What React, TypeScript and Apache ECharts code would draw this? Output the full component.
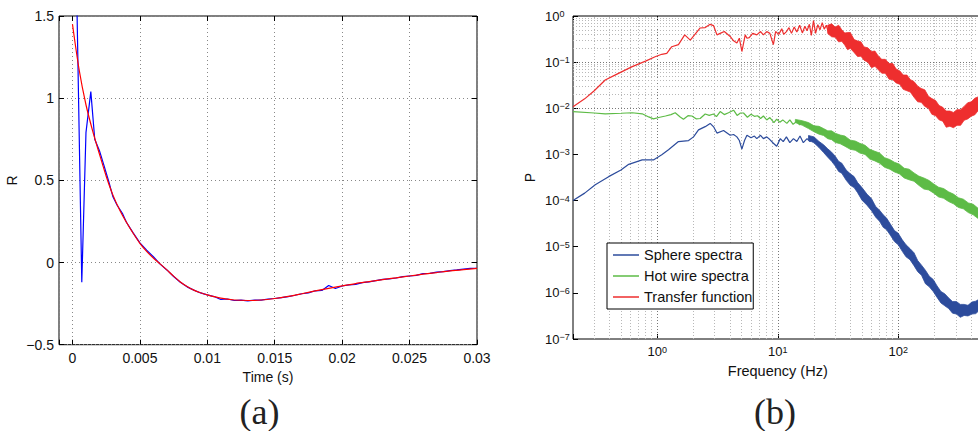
import React, { useEffect, useRef } from "react";
import * as echarts from "echarts";

const FONT = '"Liberation Sans", Arial, Helvetica, sans-serif';

// ---------- (a) autocorrelation ----------
const redT = [0, 0.0005, 0.001, 0.0015, 0.002, 0.0025, 0.003, 0.0035, 0.004, 0.0045, 0.005, 0.0055, 0.006, 0.0065, 0.007, 0.0075, 0.008, 0.0085, 0.009, 0.0095, 0.01, 0.011, 0.012, 0.013, 0.014, 0.015, 0.016, 0.017, 0.018, 0.019, 0.02, 0.021, 0.022, 0.023, 0.024, 0.025, 0.026, 0.027, 0.028, 0.029, 0.03];
const redR = [1.45, 1.17, 0.96, 0.8, 0.66, 0.525, 0.41, 0.32, 0.245, 0.178, 0.117, 0.068, 0.027, -0.008, -0.045, -0.083, -0.118, -0.146, -0.168, -0.184, -0.197, -0.217, -0.228, -0.231, -0.228, -0.219, -0.206, -0.19, -0.173, -0.157, -0.142, -0.128, -0.116, -0.104, -0.093, -0.082, -0.071, -0.061, -0.051, -0.043, -0.036];
const blueT = [0.0003, 0.00069, 0.001, 0.00136, 0.00165, 0.002, 0.0023, 0.0027, 0.003, 0.0033, 0.0037, 0.004, 0.0045, 0.005, 0.0055, 0.006, 0.0065, 0.007, 0.0075, 0.008, 0.0085, 0.009, 0.0095, 0.01, 0.0105, 0.011, 0.0115, 0.012, 0.0125, 0.013, 0.0135, 0.014, 0.0145, 0.015, 0.0155, 0.016, 0.0165, 0.017, 0.0175, 0.018, 0.0185, 0.019, 0.0195, 0.02, 0.0205, 0.021, 0.0215, 0.022, 0.0225, 0.023, 0.0235, 0.024, 0.0245, 0.025, 0.0255, 0.026, 0.0265, 0.027, 0.0275, 0.028, 0.0285, 0.029, 0.0295, 0.03];
const blueR = [1.7, -0.12, 0.79, 1.04, 0.75, 0.68, 0.6, 0.49, 0.4, 0.35, 0.3, 0.245, 0.18, 0.12, 0.075, 0.035, -0.01, -0.045, -0.085, -0.12, -0.148, -0.168, -0.185, -0.197, -0.207, -0.225, -0.222, -0.231, -0.229, -0.233, -0.229, -0.229, -0.222, -0.219, -0.214, -0.207, -0.199, -0.19, -0.185, -0.172, -0.17, -0.14, -0.158, -0.143, -0.136, -0.133, -0.122, -0.118, -0.11, -0.102, -0.099, -0.094, -0.086, -0.082, -0.078, -0.068, -0.066, -0.058, -0.055, -0.049, -0.045, -0.04, -0.036, -0.035];

// ---------- (b) spectra ----------
const sphereF = [0.2, 0.25, 0.306, 0.395, 0.5, 0.58, 0.75, 0.93, 1.09, 1.24, 1.5, 1.82, 2.0, 2.2, 2.5, 2.75, 2.95, 3.13, 3.55, 4.03, 4.3, 4.58, 4.8, 5.04, 5.3, 5.55, 6.0, 6.4, 6.7, 7.2, 7.6, 8.1, 8.6, 9.2, 9.8, 10.5, 11.1, 11.8, 12.6, 13.5, 14.4, 15.3, 16.3, 17.5, 18.5, 19.8, 21];
const sphereP = [1.0e-4, 1.45e-4, 2.2e-4, 3.3e-4, 4.6e-4, 6.1e-4, 7.6e-4, 7.6e-4, 9.8e-4, 1.26e-3, 1.9e-3, 2.0e-3, 2.4e-3, 3.4e-3, 4.0e-3, 4.7e-3, 3.9e-3, 2.9e-3, 3.3e-3, 2.6e-3, 2.7e-3, 2.4e-3, 2.0e-3, 1.3e-3, 2.0e-3, 2.6e-3, 2.3e-3, 2.5e-3, 2.2e-3, 2.6e-3, 2.2e-3, 2.4e-3, 2.1e-3, 1.75e-3, 1.5e-3, 2.2e-3, 1.9e-3, 2.4e-3, 1.8e-3, 2.2e-3, 1.9e-3, 2.5e-3, 1.8e-3, 2.2e-3, 1.9e-3, 2.3e-3, 1.9e-3];
const sphereBandF = [18, 20, 22, 24, 26, 28, 30, 32, 34, 37, 40, 43, 46, 50, 55, 60, 65, 70, 75, 80, 86, 93, 100, 108, 116, 125, 135, 145, 156, 168, 181, 195, 210, 226, 243, 262, 282, 304, 327, 352, 379, 408, 440, 474, 500];
const sphereBandLo = [2.04e-3, 1.78e-3, 1.41e-3, 1.1e-3, 8.71e-4, 7.08e-4, 5.62e-4, 4.27e-4, 3.89e-4, 2.75e-4, 2.14e-4, 1.91e-4, 1.48e-4, 1.02e-4, 7.94e-5, 6.03e-5, 4.37e-5, 3.55e-5, 2.63e-5, 2.34e-5, 1.78e-5, 1.29e-5, 1.1e-5, 7.94e-6, 6.03e-6, 5.25e-6, 3.89e-6, 2.88e-6, 2.4e-6, 1.58e-6, 1.35e-6, 1.07e-6, 7.94e-7, 6.03e-7, 5.25e-7, 4.57e-7, 3.63e-7, 3.47e-7, 2.95e-7, 3.24e-7, 3.16e-7, 3.47e-7, 3.55e-7, 4.27e-7, 4.37e-7];
const sphereBandHi = [2.57e-3, 2.4e-3, 1.91e-3, 1.62e-3, 1.32e-3, 1.12e-3, 9.12e-4, 7.08e-4, 6.46e-4, 4.57e-4, 3.8e-4, 3.31e-4, 2.45e-4, 1.91e-4, 1.38e-4, 1.1e-4, 7.41e-5, 6.17e-5, 4.9e-5, 4.17e-5, 3.09e-5, 2.24e-5, 1.95e-5, 1.41e-5, 1.1e-5, 9.12e-6, 7.41e-6, 5.01e-6, 3.98e-6, 3.09e-6, 2.29e-6, 1.95e-6, 1.41e-6, 1.07e-6, 9.55e-7, 7.76e-7, 6.46e-7, 6.46e-7, 5.62e-7, 5.62e-7, 5.37e-7, 6.31e-7, 6.61e-7, 7.41e-7, 7.59e-7];

const hotF = [0.2, 0.3, 0.37, 0.5, 0.62, 0.75, 0.85, 0.93, 1.05, 1.17, 1.3, 1.41, 1.55, 1.65, 1.8, 1.94, 2.1, 2.27, 2.5, 2.7, 2.93, 3.1, 3.33, 3.6, 3.9, 4.3, 4.6, 4.9, 5.2, 5.6, 6.0, 6.4, 6.8, 7.2, 7.6, 8.1, 8.6, 9.3, 9.8, 10.4, 11.0, 11.9, 12.6, 13.4, 14.4, 15.2, 16.0];
const hotP = [8.5e-3, 7.9e-3, 7.6e-3, 7.8e-3, 8.0e-3, 7.6e-3, 6.5e-3, 5.9e-3, 6.4e-3, 6.8e-3, 7.3e-3, 8.0e-3, 6.5e-3, 5.8e-3, 6.9e-3, 6.8e-3, 5.9e-3, 6.0e-3, 7.5e-3, 7.0e-3, 7.5e-3, 6.6e-3, 8.5e-3, 7.3e-3, 8.0e-3, 9.1e-3, 7.0e-3, 7.9e-3, 7.9e-3, 6.4e-3, 7.4e-3, 6.7e-3, 6.9e-3, 6.0e-3, 6.8e-3, 5.6e-3, 6.3e-3, 4.9e-3, 5.8e-3, 5.0e-3, 5.6e-3, 4.7e-3, 5.6e-3, 4.5e-3, 5.2e-3, 4.4e-3, 5.0e-3];
const hotBandF = [14, 16, 18, 20, 22, 24, 26, 28, 30, 33, 36, 40, 44, 48, 53, 58, 64, 70, 77, 85, 93, 102, 112, 123, 135, 148, 163, 179, 197, 216, 238, 261, 287, 316, 347, 381, 419, 461, 500];
const hotBandLo = [4.9e-3, 4.27e-3, 3.63e-3, 3.09e-3, 2.75e-3, 2.57e-3, 2.19e-3, 2.09e-3, 1.82e-3, 1.7e-3, 1.51e-3, 1.29e-3, 1.23e-3, 1.07e-3, 1.0e-3, 7.94e-4, 7.24e-4, 6.46e-4, 5.25e-4, 4.79e-4, 4.17e-4, 3.8e-4, 3.09e-4, 2.82e-4, 2.63e-4, 2.14e-4, 1.78e-4, 1.7e-4, 1.45e-4, 1.2e-4, 1.12e-4, 9.55e-5, 8.51e-5, 7.08e-5, 6.61e-5, 5.5e-5, 4.9e-5, 4.07e-5, 3.8e-5];
const hotBandHi = [5.75e-3, 5.37e-3, 4.9e-3, 4.17e-3, 4.07e-3, 3.63e-3, 3.24e-3, 3.24e-3, 2.88e-3, 2.63e-3, 2.51e-3, 2.04e-3, 1.95e-3, 1.74e-3, 1.58e-3, 1.29e-3, 1.17e-3, 1.07e-3, 8.51e-4, 7.76e-4, 6.76e-4, 6.17e-4, 5.01e-4, 4.79e-4, 3.98e-4, 3.39e-4, 3.09e-4, 2.75e-4, 2.29e-4, 1.95e-4, 1.82e-4, 1.55e-4, 1.38e-4, 1.15e-4, 1.07e-4, 8.91e-5, 8.32e-5, 6.76e-5, 6.17e-5];

const transF = [0.2, 0.25, 0.3, 0.37, 0.45, 0.62, 0.8, 0.96, 1.09, 1.2, 1.32, 1.5, 1.69, 1.88, 2.04, 2.27, 2.5, 2.75, 2.93, 3.13, 3.33, 3.6, 4.03, 4.3, 4.58, 4.8, 5.04, 5.37, 5.55, 5.8, 6.2, 6.7, 7.2, 7.6, 8.1, 8.6, 9.2, 9.6, 10.2, 10.8, 11.2, 11.8, 12.4, 13.0, 13.7, 14.4, 15.2, 16.0, 16.8, 17.5, 18.3, 19.0, 19.8, 20.6, 21.5, 22.4, 23.4, 24.3, 25.3, 26.3, 27.4, 28.5];
const transP = [1.08e-2, 1.6e-2, 2.4e-2, 4.1e-2, 5.3e-2, 8.0e-2, 1.05e-1, 1.31e-1, 1.48e-1, 1.55e-1, 2.16e-1, 2.4e-1, 3.9e-1, 3.0e-1, 3.9e-1, 5.5e-1, 5.6e-1, 6.6e-1, 6.2e-1, 3.9e-1, 4.2e-1, 4.6e-1, 3.6e-1, 2.9e-1, 2.6e-1, 3.3e-1, 1.7e-1, 3.9e-1, 3.3e-1, 3.4e-1, 4.2e-1, 3.9e-1, 4.6e-1, 3.9e-1, 4.6e-1, 4.2e-1, 2.4e-1, 4.6e-1, 4.0e-1, 5.3e-1, 4.0e-1, 4.6e-1, 5.6e-1, 4.2e-1, 5.8e-1, 4.5e-1, 6.3e-1, 4.3e-1, 6.0e-1, 4.8e-1, 6.6e-1, 3.8e-1, 8.0e-1, 4.2e-1, 6.5e-1, 5.0e-1, 7.2e-1, 5.2e-1, 6.3e-1, 4.4e-1, 5.8e-1, 4.0e-1];
const transBandF = [26, 28, 30, 32, 34, 36, 38, 40, 43, 46, 49, 52, 56, 60, 64, 68, 73, 78, 84, 90, 96, 103, 110, 118, 126, 135, 145, 155, 166, 178, 190, 204, 218, 234, 250, 268, 287, 307, 329, 352, 377, 404, 432, 463, 500];
const transBandLo = [0.417, 0.355, 0.347, 0.275, 0.282, 0.234, 0.186, 0.2, 0.162, 0.132, 0.135, 0.11, 0.1, 0.0759, 0.0813, 0.0692, 0.0575, 0.0575, 0.0427, 0.0417, 0.0355, 0.0331, 0.0257, 0.024, 0.0224, 0.0174, 0.0138, 0.0135, 0.011, 0.01, 0.00741, 0.00692, 0.00562, 0.00525, 0.00389, 0.00407, 0.0038, 0.00427, 0.00427, 0.0055, 0.00589, 0.00676, 0.00724, 0.00912, 0.01];
const transBandHi = [0.631, 0.676, 0.575, 0.631, 0.501, 0.427, 0.437, 0.437, 0.309, 0.288, 0.275, 0.214, 0.204, 0.17, 0.174, 0.138, 0.115, 0.115, 0.0933, 0.0933, 0.0708, 0.0646, 0.0525, 0.0525, 0.0417, 0.038, 0.0302, 0.0269, 0.0251, 0.0182, 0.0162, 0.0148, 0.0115, 0.0105, 0.00871, 0.00871, 0.00813, 0.00933, 0.00933, 0.011, 0.0132, 0.0138, 0.0166, 0.0178, 0.0214];

const legendNames = ["Sphere spectra", "Hot wire spectra", "Transfer function"];
const seriesColors = ["#2d4c9c", "#5dbb46", "#ee2e2e"];

// grid tick positions (b)
const xMajor = [1, 10, 100];
const xMinorDecades = [0.1, 1, 10, 100];
const yDecades = [1e-7, 1e-6, 1e-5, 1e-4, 1e-3, 1e-2, 1e-1];
const minorMult = [2, 3, 4, 5, 6, 7, 8, 9];

function supText(v: number) {
  const l = Math.log10(v);
  const e = Math.round(l);
  if (Math.abs(l - e) > 1e-6) return "";
  const es = e < 0 ? "\u2212" + -e : String(e);
  return "{b|10}{s|" + es + "}";
}

export default function App() {
  const ref = useRef<HTMLDivElement>(null);
  useEffect(() => {
    if (!ref.current) return;
    const chart = echarts.init(ref.current, undefined, { renderer: "svg" });

    const majorStyle = { color: "#777", width: 1, type: [1, 2] as any };
    const minorStyle = { color: "#b8b8b8", width: 1, type: [1, 2] as any };
    const gridLines: any[] = [];
    xMajor.forEach((v) => gridLines.push({ xAxis: v, lineStyle: majorStyle }));
    xMinorDecades.forEach((d) =>
      minorMult.forEach((m) => {
        const v = d * m;
        if (v > 0.2 && v < 500) gridLines.push({ xAxis: v, lineStyle: minorStyle });
      })
    );
    yDecades.forEach((d, i) => {
      if (i > 0) gridLines.push({ yAxis: d, lineStyle: majorStyle });
      minorMult.forEach((m) => gridLines.push({ yAxis: d * m, lineStyle: minorStyle }));
    });

    const band = (name: string, f: number[], lo: number[], hi: number[], color: string) => ({
      type: "custom",
      name,
      xAxisIndex: 2,
      yAxisIndex: 2,
      silent: true,
      z: 3,
      data: [[f[0], lo[0]]],
      renderItem: (_p: any, api: any) => {
        const top = f.map((x, i) => api.coord([x, hi[i]]));
        const bot = f.map((x, i) => api.coord([x, lo[i]])).reverse();
        return {
          type: "polygon",
          shape: { points: top.concat(bot) },
          style: { fill: color, stroke: color, lineWidth: 0.8 },
        };
      },
    });

    const labelRich = {
      b: { fontFamily: FONT, fontSize: 13, color: "#111", lineHeight: 13, padding: [4, 0, 0, 0], verticalAlign: "bottom" },
      s: { fontFamily: FONT, fontSize: 9, color: "#111", lineHeight: 9, verticalAlign: "top" },
    };
    const tick = { inside: true, length: 5, lineStyle: { color: "#000" } };
    const noLine = { show: false, onZero: false };

    const option: any = {
      animation: false,
      backgroundColor: "#fff",
      grid: [
        { left: 59, top: 16, width: 418, height: 328.7, show: true, borderColor: "#000", borderWidth: 1, backgroundColor: "transparent", containLabel: false, outerBoundsMode: "none" },
        { left: 573, top: 16, width: 409.5, height: 323, show: true, borderColor: "#000", borderWidth: 1, backgroundColor: "transparent", containLabel: false, outerBoundsMode: "none" },
      ],
      xAxis: [
        {
          type: "value", gridIndex: 0, min: -0.001, max: 0.03, splitNumber: 6, minInterval: 0.005, maxInterval: 0.005,
          name: "Time (s)", nameLocation: "middle", nameGap: 19,
          nameTextStyle: { fontFamily: FONT, fontSize: 14, color: "#111" },
          axisLine: noLine,
          axisTick: tick,
          axisLabel: {
            fontFamily: FONT, fontSize: 14, color: "#111", margin: 6,
            formatter: (v: number) => {
              const k = Math.round(v / 0.005);
              if (Math.abs(v - k * 0.005) > 1e-9) return "";
              return String(parseFloat((k * 0.005).toFixed(4)));
            },
          },
          splitLine: { show: true, lineStyle: { color: "#888", type: [1, 3], width: 1 } },
        },
        {
          type: "value", gridIndex: 0, position: "top", min: -0.001, max: 0.03, splitNumber: 6, minInterval: 0.005, maxInterval: 0.005,
          axisLine: noLine, axisTick: tick,
          axisLabel: { show: false }, splitLine: { show: false },
        },
        {
          type: "log", gridIndex: 1, min: 0.2, max: 500, logBase: 10,
          name: "Frequency (Hz)", nameLocation: "middle", nameGap: 24,
          nameTextStyle: { fontFamily: FONT, fontSize: 14.5, color: "#111" },
          axisLine: noLine,
          axisTick: tick,
          axisLabel: { margin: 6, formatter: supText, rich: labelRich },
          splitLine: { show: false },
        },
        {
          type: "log", gridIndex: 1, position: "top", min: 0.2, max: 500, logBase: 10,
          axisLine: noLine, axisTick: tick,
          axisLabel: { show: false }, splitLine: { show: false },
        },
      ],
      yAxis: [
        {
          type: "value", gridIndex: 0, min: -0.5, max: 1.5, interval: 0.5,
          name: "R", nameLocation: "middle", nameGap: 40, nameRotate: 90,
          nameTextStyle: { fontFamily: FONT, fontSize: 14, color: "#111" },
          axisLine: noLine,
          axisTick: tick,
          axisLabel: {
            fontFamily: FONT, fontSize: 14, color: "#111", margin: 5,
            formatter: (v: number) => (v < 0 ? "\u2212" + String(Math.abs(v)) : String(v)),
          },
          splitLine: { show: true, lineStyle: { color: "#888", type: [1, 3], width: 1 } },
        },
        {
          type: "value", gridIndex: 0, position: "right", min: -0.5, max: 1.5, interval: 0.5,
          axisLine: noLine, axisTick: tick,
          axisLabel: { show: false }, splitLine: { show: false },
        },
        {
          type: "log", gridIndex: 1, min: 1e-7, max: 1, logBase: 10,
          name: "P", nameLocation: "middle", nameGap: 36, nameRotate: 90,
          nameTextStyle: { fontFamily: FONT, fontSize: 14, color: "#111" },
          axisLine: noLine,
          axisTick: tick,
          axisLabel: { margin: 28, align: "left", formatter: supText, rich: labelRich },
          splitLine: { show: false },
        },
      ],
      legend: {
        data: legendNames.map((n) => ({ name: n, icon: "rect" })),
        orient: "vertical",
        left: 607,
        top: 243,
        padding: [4, 1, 4, 6],
        itemWidth: 26,
        itemHeight: 1.5,
        itemGap: 5,
        borderColor: "#000",
        borderWidth: 1,
        borderRadius: 0,
        backgroundColor: "#fff",
        selectedMode: false,
        textStyle: { fontFamily: FONT, fontSize: 14.5, color: "#111", lineHeight: 16 },
        z: 10,
      },
      graphic: [
        { type: "text", x: 259.5, y: 412, style: { text: "(a)", font: '36px "Liberation Serif", "Times New Roman", serif', fill: "#222", align: "center", verticalAlign: "middle" } },
        { type: "text", x: 775, y: 412, style: { text: "(b)", font: '36px "Liberation Serif", "Times New Roman", serif', fill: "#222", align: "center", verticalAlign: "middle" } },
      ],
      series: [
        {
          type: "line", name: "measured", xAxisIndex: 0, yAxisIndex: 0, z: 3,
          data: blueT.map((t, i) => [t, blueR[i]]),
          symbol: "none", lineStyle: { color: "#0000ff", width: 1.2 }, itemStyle: { color: "#0000ff" },
        },
        {
          type: "line", name: "fit", xAxisIndex: 0, yAxisIndex: 0, z: 4,
          data: redT.map((t, i) => [t, redR[i]]), smooth: 0.3,
          symbol: "none", lineStyle: { color: "#ff0000", width: 1.2 }, itemStyle: { color: "#ff0000" },
        },
        {
          type: "line", name: "gridlines", xAxisIndex: 2, yAxisIndex: 2, z: 1, silent: true,
          data: [], symbol: "none",
          markLine: { silent: true, z: 1, symbol: ["none", "none"], label: { show: false }, animation: false, data: gridLines },
        },
        {
          type: "line", name: legendNames[0], xAxisIndex: 2, yAxisIndex: 2, z: 3,
          data: sphereF.map((f, i) => [f, sphereP[i]]),
          symbol: "none", lineStyle: { color: seriesColors[0], width: 1.2 }, itemStyle: { color: seriesColors[0] },
        },
        band("sphere band", sphereBandF, sphereBandLo, sphereBandHi, seriesColors[0]),
        {
          type: "line", name: legendNames[1], xAxisIndex: 2, yAxisIndex: 2, z: 3,
          data: hotF.map((f, i) => [f, hotP[i]]),
          symbol: "none", lineStyle: { color: seriesColors[1], width: 1.2 }, itemStyle: { color: seriesColors[1] },
        },
        band("hot wire band", hotBandF, hotBandLo, hotBandHi, seriesColors[1]),
        {
          type: "line", name: legendNames[2], xAxisIndex: 2, yAxisIndex: 2, z: 3,
          data: transF.map((f, i) => [f, transP[i]]),
          symbol: "none", lineStyle: { color: seriesColors[2], width: 1.2 }, itemStyle: { color: seriesColors[2] },
        },
        band("transfer band", transBandF, transBandLo, transBandHi, seriesColors[2]),
      ],
    };
    chart.setOption(option);
    return () => chart.dispose();
  }, []);
  return (
    <div
      ref={ref}
      style={{ position: "fixed", left: 0, top: 0, width: 978, height: 431, background: "#fff" }}
    />
  );
}
